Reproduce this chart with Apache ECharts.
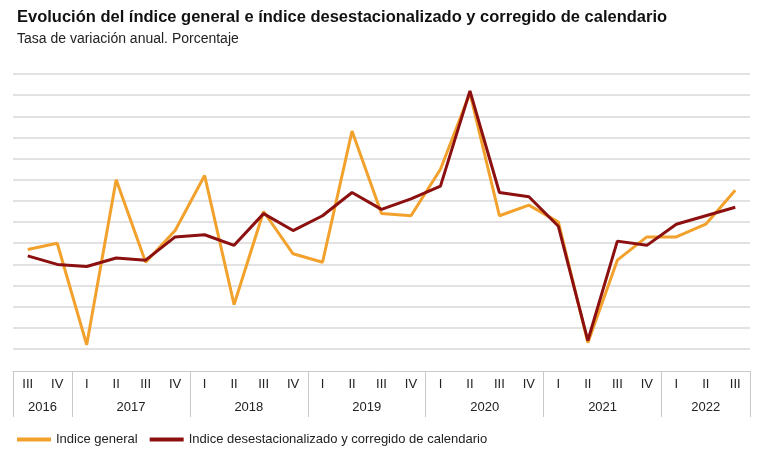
<!DOCTYPE html>
<html>
<head>
<meta charset="utf-8">
<script src="https://cdn.jsdelivr.net/npm/echarts@6/dist/echarts.min.js"></script>
<style>
  html, body { margin: 0; padding: 0; background: #fff; }
  #main { width: 763px; height: 462px; }
</style>
</head>
<body>
<div id="main"></div>
<script>
const quarters = ['III', 'IV',
  'I', 'II', 'III', 'IV',
  'I', 'II', 'III', 'IV',
  'I', 'II', 'III', 'IV',
  'I', 'II', 'III', 'IV',
  'I', 'II', 'III', 'IV',
  'I', 'II', 'III'];
const years = ['2016', '2017', '2018', '2019', '2020', '2021', '2022'];
const yearStart = [0, 2, 6, 10, 14, 18, 22, 25]; // band index where each year starts

const general = [0.7, 1.0, -3.8, 4.0, 0.1, 1.6, 4.2, -1.9, 2.5, 0.5, 0.1, 6.3, 2.4,
  2.3, 4.5, 8.1, 2.3, 2.8, 2.0, -3.7, 0.2, 1.3, 1.3, 1.9, 3.5];
const desest = [0.4, 0.0, -0.1, 0.3, 0.2, 1.3, 1.4, 0.9, 2.4, 1.6, 2.3, 3.4, 2.6,
  3.1, 3.7, 8.2, 3.4, 3.2, 1.8, -3.6, 1.1, 0.9, 1.9, 2.3, 2.7];

// label placement tweaks
const generalPos = {3: 'right', 8: 'left', 15: 'left', 17: 'right', 18: 'right', 19: 'right'};
const desestPos = {2: 'bottom', 7: 'bottom', 8: 'right', 11: 'top', 14: 'right', 15: 'right', 16: 'left', 18: 'left', 19: 'left', 24: 'right'};

function fmt(v) { return v.toFixed(1).replace('.', ','); }

function buildData(values, other, pos) {
  return values.map(function (v, i) {
    let p = pos[i] || (v >= other[i] ? 'top' : 'bottom');
    return {
      value: v,
      label: {
        show: true, position: p, fontSize: 13, color: '#222', distance: 6,
        fontFamily: 'Liberation Sans, Arial, sans-serif', formatter: fmt(v)
      }
    };
  });
}

const yearCenter = {};
for (let i = 0; i < years.length; i++) {
  yearCenter[(yearStart[i] + yearStart[i + 1]) / 2] = years[i];
}

const chart = echarts.init(document.getElementById('main'));
const font = 'Liberation Sans, Arial, sans-serif';

chart.setOption({
  animation: false,
  textStyle: { fontFamily: font },
  title: {
    text: 'Evolución del índice general e índice desestacionalizado y corregido de calendario',
    subtext: 'Tasa de variación anual. Porcentaje',
    left: 12, top: 4, itemGap: 6,
    textStyle: { fontSize: 16.5, fontWeight: 'bold', color: '#111', fontFamily: font },
    subtextStyle: { fontSize: 14, color: '#222', fontFamily: font }
  },
  legend: {
    left: 12, top: 428,
    icon: 'rect', itemWidth: 34, itemHeight: 4, itemGap: 12,
    textStyle: { fontSize: 13, color: '#222', fontFamily: font },
    data: ['Indice general', 'Indice desestacionalizado y corregido de calendario']
  },
  grid: { left: 13, right: 13, top: 74, bottom: 113 },
  xAxis: [
    {
      type: 'category', data: quarters, boundaryGap: true, position: 'bottom',
      axisLine: { show: false }, axisTick: { show: false },
      axisLabel: { interval: 0, margin: 29, fontSize: 13, color: '#222' }
    },
    {
      type: 'category', data: quarters, boundaryGap: true, offset: 22, position: 'bottom',
      axisLine: { show: true, lineStyle: { color: '#c8c8c8' } },
      axisTick: {
        show: true, length: 46, lineStyle: { color: '#c8c8c8' },
        interval: function (i) { return yearStart.indexOf(i) >= 0; }
      },
      axisLabel: { show: false }
    },
    {
      type: 'value', min: 0, max: 25, interval: 0.5, offset: 22, position: 'bottom',
      axisLine: { show: false }, axisTick: { show: false }, splitLine: { show: false },
      axisLabel: {
        margin: 30, fontSize: 13, color: '#222', showMinLabel: false, showMaxLabel: false,
        formatter: function (v) { return yearCenter[v] || ''; }
      }
    }
  ],
  yAxis: {
    type: 'value', min: -4, max: 9, interval: 1,
    axisLabel: { show: false }, axisTick: { show: false }, axisLine: { show: false },
    splitLine: { lineStyle: { color: '#d9d9d9', width: 1.5 } }
  },
  series: [
    {
      name: 'Indice general', type: 'line', xAxisIndex: 0,
      data: buildData(general, desest, generalPos),
      symbol: 'none', lineStyle: { color: '#f2a22c', width: 3 }, itemStyle: { color: '#f2a22c' },
      label: { show: true },
      z: 2
    },
    {
      name: 'Indice desestacionalizado y corregido de calendario', type: 'line', xAxisIndex: 0,
      data: buildData(desest, general, desestPos),
      symbol: 'none', lineStyle: { color: '#8c1010', width: 3 }, itemStyle: { color: '#8c1010' },
      label: { show: true },
      z: 3
    }
  ]
});
</script>
</body>
</html>
